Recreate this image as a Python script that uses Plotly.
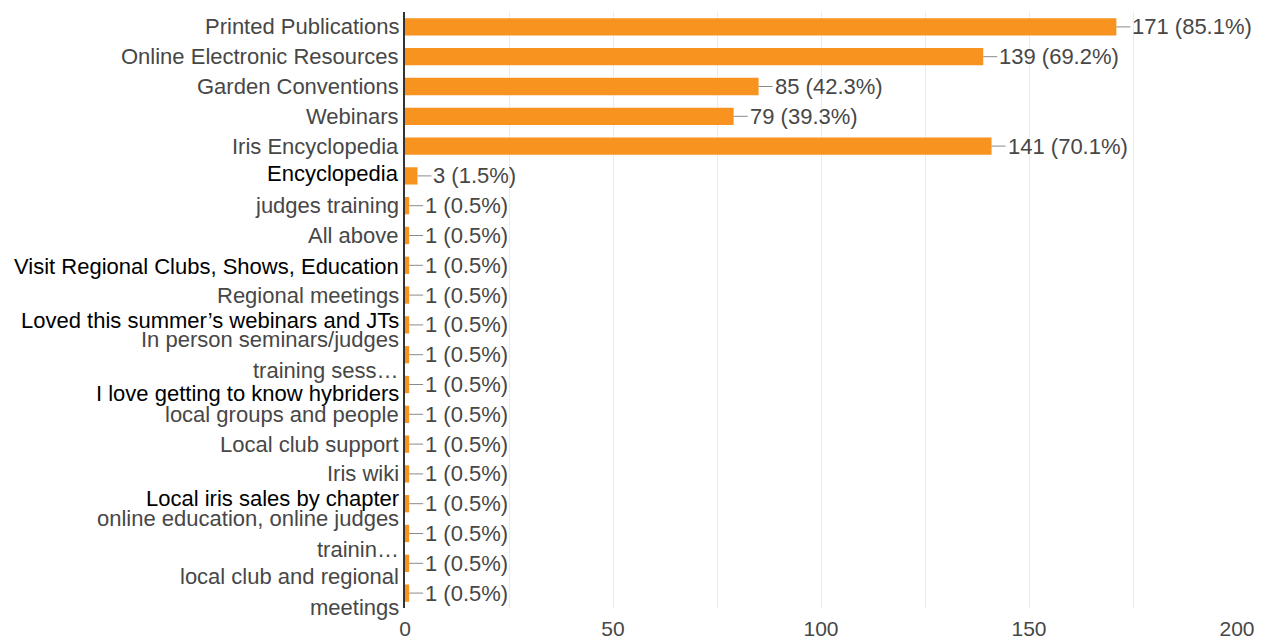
import plotly.graph_objects as go

# ---- data ----
categories = [
    "Printed Publications",
    "Online Electronic Resources",
    "Garden Conventions",
    "Webinars",
    "Iris Encyclopedia",
    "Encyclopedia",
    "judges training",
    "All above",
    "Visit Regional Clubs, Shows, Education",
    "Regional meetings",
    "Loved this summer’s webinars and JTs",
    "In person seminars/judges\ntraining sess…",
    "I love getting to know hybriders",
    "local groups and people",
    "Local club support",
    "Iris wiki",
    "Local iris sales by chapter",
    "online education, online judges\ntrainin…",
    " ",
    "local club and regional\nmeetings",
]
counts = [171, 139, 85, 79, 141, 3, 1, 1, 1, 1, 1, 1, 1, 1, 1, 1, 1, 1, 1, 1]
respondents = 201
x_ticks = [0, 25, 50, 75, 100, 125, 150, 175, 200]
x_tick_labels = ["0", "", "50", "", "100", "", "150", "", "200"]

# ---- styling ----
BAR = "#f7931e"
GREY_TXT = "#474747"
FONT = "Arial, Liberation Sans, Helvetica, sans-serif"
dark_labels = {  # labels drawn in black, with a small vertical nudge (px)
    "Encyclopedia": 2,
    "Visit Regional Clubs, Shows, Education": -1,
    "Loved this summer’s webinars and JTs": 4,
    "I love getting to know hybriders": -9,
    "Local iris sales by chapter": 5,
}
LINE_GAP = 31

fig = go.Figure(go.Bar(
    x=counts, y=categories, orientation="h",
    marker=dict(color=BAR, line=dict(width=0)),
    hoverinfo="skip",
))

annotations = []
# value labels with leader line
for c, v in zip(categories, counts):
    pct = 100 * v / respondents
    annotations.append(dict(
        x=v, y=c, xref="x", yref="y",
        text=f"{v} ({pct:.1f}%)",
        showarrow=True, arrowhead=0, arrowwidth=1, arrowcolor="#8a8a8a",
        ax=14, ay=0, xanchor="left", yanchor="middle", standoff=0,
        font=dict(family=FONT, size=22, color=GREY_TXT),
    ))

# category labels
for c in categories:
    if not c.strip():
        continue
    lines = c.split("\n")
    n = len(lines)
    if c in dark_labels:
        color, size, base = "#000000", 22, dark_labels[c]
    else:
        color, size, base = GREY_TXT, 22, 0
    if c.startswith("local club and regional"):
        base = 1.5
    for i, ln in enumerate(lines):
        shift = base + (n - 1) / 2 * LINE_GAP - i * LINE_GAP
        annotations.append(dict(
            x=0, y=c, xref="paper", yref="y", text=ln, showarrow=False,
            xanchor="right", yanchor="middle", xshift=-4, yshift=shift,
            font=dict(family=FONT, size=size, color=color),
        ))

# the page body adds an 8px margin; size the figure so the plot lands in place
fig.update_layout(
    width=1250, height=633,
    margin=dict(l=397, r=21, t=4, b=33, autoexpand=False),
    paper_bgcolor="white", plot_bgcolor="white",
    bargap=0.42, showlegend=False,
    annotations=annotations,
    font=dict(family=FONT),
    xaxis=dict(
        range=[0, 200], autorange=False, tickvals=x_ticks, ticktext=x_tick_labels,
        showgrid=True, gridcolor="#ebebeb", gridwidth=1,
        zeroline=False, showline=False, ticks="",
        tickfont=dict(family=FONT, size=21, color=GREY_TXT),
        ticklabelstandoff=6, automargin=False, fixedrange=True,
    ),
    yaxis=dict(
        categoryorder="array", categoryarray=categories,
        range=[len(categories) - 0.5, -0.5], autorange=False,
        showticklabels=False,
        showgrid=False, zeroline=False, automargin=False,
        showline=True, linecolor="#333333", linewidth=1.5, ticks="",
        fixedrange=True,
    ),
)

fig.write_html("out.html", config={"displayModeBar": False})
